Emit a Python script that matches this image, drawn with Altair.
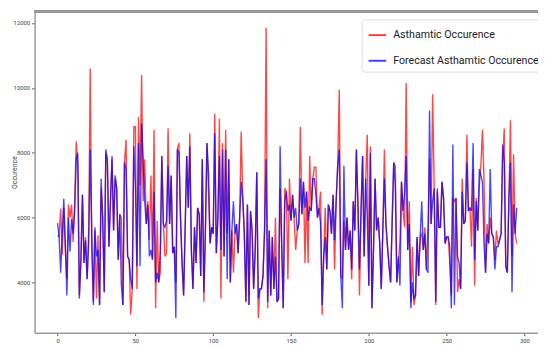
import altair as alt
import pandas as pd

actual = [5450,5400,6280,4850,6300,5000,4100,6400,6000,6400,5250,6500,8350,7600,3600,4800,6700,4600,5400,4100,
5600,10600,5000,3400,5600,3500,5450,3300,6900,6000,3700,8000,7700,5100,6500,7800,5600,7200,6900,4700,
6100,6000,3300,7700,8400,4800,4700,3000,3800,8800,8800,3800,9100,7000,10400,6500,7800,5800,6500,5300,
7300,4700,8700,3200,5900,4000,4300,7900,5800,4800,4900,8750,5800,7300,4900,5100,4000,8100,8300,6000,
4600,3600,5700,7900,6300,8600,5000,3800,5700,4600,6300,6100,4200,7800,3400,5600,8300,6800,5200,5700,
5500,9200,4900,6000,9050,3500,8300,4800,8700,5500,7800,4000,5600,4300,5500,5800,4900,6000,8650,6600,
5500,3400,6400,3300,6200,5600,3800,5000,7400,2900,3800,3800,4200,5600,11850,3200,5600,3600,5400,3800,
6000,3400,3500,6900,5200,3200,6900,6800,4100,7200,5900,6700,6000,5000,5600,5800,8800,6100,7100,4600,
6800,4600,7900,6200,7200,7550,7550,6000,6300,6800,3000,4800,6300,4400,6400,6200,5500,6700,4400,6500,
7600,9950,4200,4100,5900,5000,6000,5000,5600,4100,6500,5600,8100,6400,3600,6200,7900,4800,7200,8550,
3900,8200,3200,5000,7200,5600,6000,5200,3800,5600,8100,5800,5100,4500,4000,5900,7700,7600,4000,4600,
5300,7100,6200,5700,10150,5000,6500,3400,5100,3300,3600,5400,4200,5400,5500,5000,5700,4400,5700,7800,
5800,9800,6900,3300,6800,5700,5700,7100,6600,5200,5400,5400,4600,3600,6600,6500,6600,3700,4100,3800,
7200,5800,5900,8550,6200,6300,5100,7500,3900,6600,5600,7000,7600,8700,7200,4300,5800,5200,6000,5500,
5400,4700,5600,5200,5300,5500,7800,8750,4500,4300,6600,9000,4800,7950,5500,5200]

forecast = [5830,5400,4300,5500,6580,5200,3600,6000,4950,5950,5500,6200,7800,8000,3500,4600,6700,4600,5300,4100,
5200,8100,5500,3300,5700,4800,5000,3300,7200,6000,3700,8100,7800,5100,6500,7900,5600,7300,6900,4700,
6100,3900,3300,7700,7500,4800,4700,4100,3800,8200,7000,4500,8300,4500,8900,7800,6500,5800,6400,4800,
5000,4700,6800,4000,4300,4000,5000,7900,5800,5700,5900,7600,5800,7300,4900,5100,2900,8100,8000,6000,
4600,3600,5700,7900,6300,8200,5000,3800,5700,4600,6300,6100,4200,7800,3700,5600,8300,7400,5200,5700,
5500,8600,4900,6000,7900,5000,8100,4800,8100,4100,7800,4000,5600,6500,5500,5800,4900,6000,7100,6600,
5500,3400,6400,3300,6200,5600,3800,5000,7400,3500,3800,3800,4200,5600,7800,3400,5600,3600,5400,3800,
4800,3400,3500,8200,5200,3200,6500,6800,6200,6400,5900,6700,6000,6300,5600,5800,7200,6100,7100,6300,
6800,5900,6300,6200,7200,7200,6700,6000,6300,5800,3300,4800,5400,4400,6400,6200,5500,6700,5300,6500,
7600,8100,4200,3200,7600,5000,6000,5000,5600,4400,6500,5600,8100,6400,4400,6200,7900,4800,7200,6000,
3900,8000,3200,5000,7200,5600,6000,5200,3800,5600,7200,5800,5100,4500,4000,5900,7700,7000,4000,4800,
3900,7100,6200,6800,7900,5000,5800,3200,4000,3500,3600,5400,4200,5400,6500,5000,5500,4400,4300,9300,
5800,6500,6900,3400,6900,5700,5700,7100,6600,5200,5400,5400,5100,3200,8250,3300,6600,4800,4600,3800,
6800,5800,5900,7700,6200,6300,6200,8300,4700,6500,5600,7500,7300,7100,5200,4300,5500,5200,7500,5500,
5400,4400,5100,5100,5300,5500,8250,7700,4500,4300,6600,7700,3700,6400,5500,6300]

series_names = ["Asthamtic Occurence", "Forecast Asthamtic Occurence"]
series_colors = ["red", "blue"]
x_ticks = [0, 50, 100, 150, 200, 250, 300]
y_ticks = [4000, 6000, 8000, 10000, 12000]

rows = []
for i, v in enumerate(actual):
    rows.append({"idx": i, "value": v, "series": series_names[0], "ord": 0})
for i, v in enumerate(forecast):
    rows.append({"idx": i, "value": v, "series": series_names[1], "ord": 1})
df = pd.DataFrame(rows)

FONT = "Roboto"
W, H = 511, 326

lines = alt.Chart(df).mark_line(strokeWidth=1.4, opacity=0.72).encode(
    x=alt.X("idx:Q", scale=alt.Scale(domain=[-14.75, 308.7], nice=False, zero=False),
            axis=alt.Axis(values=x_ticks, format="d", title=None, grid=False, labelFontSize=6,
                          tickSize=3, labelPadding=2, domainColor="#999", domainWidth=1.5,
                          tickColor="#555", labelColor="#444", labelFont=FONT)),
    y=alt.Y("value:Q", scale=alt.Scale(domain=[2450, 12355], nice=False, zero=False),
            axis=alt.Axis(values=y_ticks, format="d", title="Occurence", grid=False, labelFontSize=6,
                          tickSize=3, labelPadding=2, domainColor="#999", domainWidth=1.5,
                          tickColor="#555", labelColor="#444", labelFont=FONT,
                          titleFont=FONT, titleFontSize=7, titleFontWeight="normal",
                          titleColor="#444", titleX=-20, titleY=163, titleBaseline="middle")),
    color=alt.Color("series:N", scale=alt.Scale(domain=series_names, range=series_colors),
                    legend=alt.Legend(title=None, orient="none", legendX=332, legendY=8,
                                      symbolType="stroke", symbolStrokeWidth=2, symbolSize=324,
                                      labelFontSize=10.8, labelFont=FONT, labelColor="#222",
                                      labelOffset=6, labelLimit=400, rowPadding=11,
                                      padding=6, fillColor="white", strokeColor="#ddd",
                                      cornerRadius=3, symbolOpacity=0.75)),
    detail="series:N",
    order="ord:Q",
)

top = alt.Chart(df).mark_rule(color="#999", strokeWidth=1.5).encode(
    x=alt.value(0), x2=alt.value(W), y=alt.value(0)
)

chart = alt.layer(lines, top).properties(
    width=W, height=H,
    autosize=alt.AutoSizeParams(type="none"),
    padding={"left": 27, "top": 1, "right": 0, "bottom": 11},
).configure_view(stroke=None)

chart.save("out.html", embed_options={"renderer": "svg", "actions": False})
